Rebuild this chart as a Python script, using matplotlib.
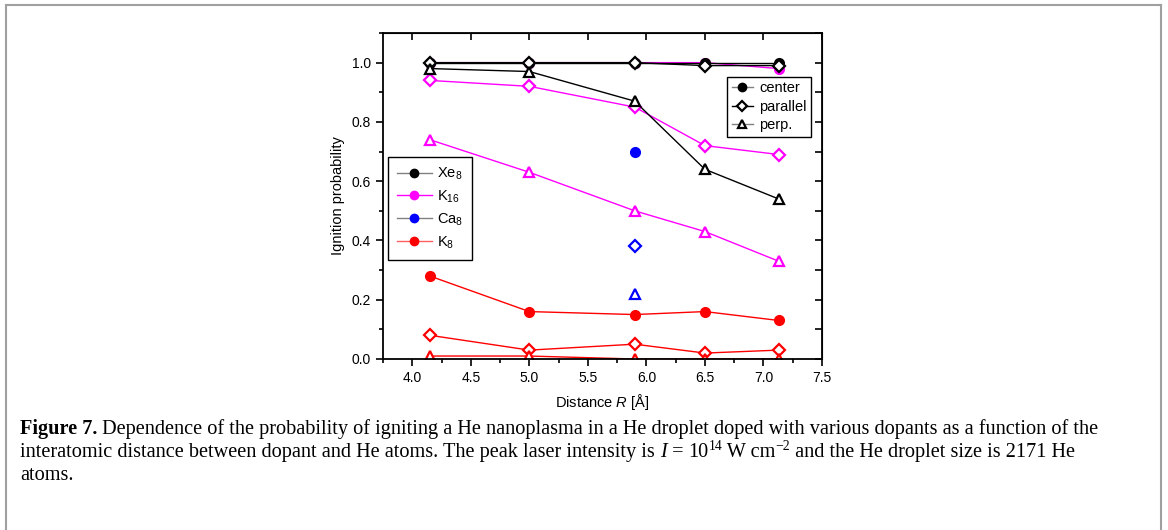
import matplotlib
matplotlib.use('Agg')
import matplotlib.pyplot as plt
from matplotlib.lines import Line2D
from matplotlib.ticker import MultipleLocator, FormatStrFormatter

plt.rcParams['font.family'] = ['Liberation Sans', 'DejaVu Sans']
plt.rcParams['mathtext.fontset'] = 'custom'
plt.rcParams['mathtext.rm'] = 'Liberation Sans'
plt.rcParams['mathtext.it'] = 'Liberation Sans:italic'

# Distance R (Å) des cinq calculs
R = [4.15, 5.0, 5.9, 6.5, 7.13]

# Xe8
xe_center = [1.0, 1.0, 1.0, 1.0, 1.0]
xe_parallel = [1.0, 1.0, 1.0, 0.99, 0.99]
xe_perp = [0.98, 0.97, 0.87, 0.64, 0.54]
# K16
k16_center = [1.0, 1.0, 1.0, 1.0, 0.98]
k16_parallel = [0.94, 0.92, 0.85, 0.72, 0.69]
k16_perp = [0.74, 0.63, 0.50, 0.43, 0.33]
# Ca8 (un seul point)
ca_R = [5.9]
ca_center = [0.70]
ca_parallel = [0.38]
ca_perp = [0.22]
# K8
k8_center = [0.28, 0.16, 0.15, 0.16, 0.13]
k8_parallel = [0.08, 0.03, 0.05, 0.02, 0.03]
k8_perp = [0.01, 0.01, 0.0, 0.0, 0.0]

W, H = 1168, 530
fig = plt.figure(figsize=(W / 100, H / 100), dpi=100)
ax = fig.add_axes([383 / W, 1 - 359 / H, (822 - 383) / W, (359 - 33) / H])

mew = 1.6

def series(x, c, p, q, col):
	# centre d'abord, les symboles ouverts par-dessus
	ax.plot(x, c, color=col, lw=1, marker='o', ms=7, mfc=col, mec=col)
	ax.plot(x, p, color=col, lw=1, marker='D', ms=6.3, mfc='white', mec=col, mew=mew)
	ax.plot(x, q, color=col, lw=1, marker='^', ms=7, mfc='white', mec=col, mew=mew)

series(R, k8_center, k8_parallel, k8_perp, '#ff0000')
series(ca_R, ca_center, ca_parallel, ca_perp, '#0000ff')
series(R, k16_center, k16_parallel, k16_perp, '#ff00ff')
series(R, xe_center, xe_parallel, xe_perp, 'black')

ax.set_xlim(3.75, 7.5)
ax.set_ylim(0, 1.1)
ax.xaxis.set_major_locator(MultipleLocator(0.5))
ax.xaxis.set_minor_locator(MultipleLocator(0.25))
ax.yaxis.set_major_locator(MultipleLocator(0.2))
ax.yaxis.set_minor_locator(MultipleLocator(0.1))
ax.xaxis.set_major_formatter(FormatStrFormatter('%.1f'))
ax.yaxis.set_major_formatter(FormatStrFormatter('%.1f'))
ax.tick_params(which='both', direction='out', labelsize=10, width=1.2)
ax.tick_params(which='major', length=5)
ax.tick_params(which='minor', length=3)
for s in ax.spines.values():
	s.set_linewidth(1.3)

# Graduations miroir vers l'intérieur
ax_top = ax.secondary_xaxis('top')
ax_top.xaxis.set_major_locator(MultipleLocator(0.5))
ax_top.tick_params(direction='in', length=5, width=1.2, labeltop=False)
ax_right = ax.secondary_yaxis('right')
ax_right.yaxis.set_major_locator(MultipleLocator(0.1))
ax_right.tick_params(direction='in', length=5, width=1.2, labelright=False)

ax.set_xlabel('Distance $R$ [Å]', fontsize=10.5, labelpad=5)
ax.set_ylabel('Ignition probability', fontsize=10.5, labelpad=5)

# Légende des dopants
h1 = [Line2D([], [], color=lc, lw=1, marker='o', ms=6, mfc=c, mec=c)
	for c, lc in [('black', '#808080'), ('#ff00ff', '#ff00ff'), ('#0000ff', '#808080'), ('#ff0000', '#ff6060')]]
leg1 = ax.legend(h1, ['Xe$_8$', 'K$_{16}$', 'Ca$_8$', 'K$_8$'], loc='upper left',
	bbox_to_anchor=(0.011, 0.62), borderaxespad=0, fontsize=10.5, fancybox=False,
	edgecolor='black', framealpha=1, handlelength=2.4, handletextpad=0.4,
	labelspacing=0.45, borderpad=0.6)
leg1.get_frame().set_linewidth(1)
ax.add_artist(leg1)

# Légende des géométries
h2 = [Line2D([], [], color='#808080', lw=1, marker='o', ms=6, mfc='black', mec='black'),
	Line2D([], [], color='black', lw=1, marker='D', ms=5, mfc='white', mec='black', mew=mew),
	Line2D([], [], color='#808080', lw=1, marker='^', ms=5.5, mfc='white', mec='black', mew=mew)]
leg2 = ax.legend(h2, ['center', 'parallel', 'perp.'], loc='upper left',
	bbox_to_anchor=(0.784, 0.865), borderaxespad=0, fontsize=10.5, fancybox=False,
	edgecolor='black', framealpha=1, handlelength=1.5, handletextpad=0.4,
	labelspacing=0.3, borderpad=0.3)
leg2.get_frame().set_linewidth(1)

# Cadre gris autour de la figure
for xs, ys in [([6, 6], [H, 5]), ([6, 1161], [5, 5]), ([1161, 1161], [5, H])]:
	fig.add_artist(Line2D([x / W for x in xs], [1 - y / H for y in ys], color='#a0a0a0', lw=1.5))

# Légende de la figure, morceau par morceau
renderer = fig.canvas.get_renderer()
fs = 14.6
serif = ['Liberation Serif', 'DejaVu Serif']

def write(pieces, x, y):
	for txt, kw in pieces:
		dy = kw.pop('dy', 0)
		t = fig.text(x / W, 1 - (y - dy) / H, txt, family=serif, va='baseline', **kw)
		x += t.get_window_extent(renderer).width

small = dict(fontsize=fs * 0.68, dy=7)
write([('Figure 7.', dict(fontsize=fs, weight='bold')),
	(' Dependence of the probability of igniting a He nanoplasma in a He droplet doped with various dopants as a function of the',
	dict(fontsize=fs))], 20, 434)
write([('interatomic distance between dopant and He atoms. The peak laser intensity is ', dict(fontsize=fs)),
	('I', dict(fontsize=fs, style='italic')),
	(' = ', dict(fontsize=fs)), ('10', dict(fontsize=fs)), ('14', dict(small)),
	(' W cm', dict(fontsize=fs)), ('\u22122', dict(small)),
	(' and the He droplet size is 2171 He', dict(fontsize=fs))], 20, 457)
write([('atoms.', dict(fontsize=fs))], 20, 480)

fig.savefig('out.png', dpi=100)
